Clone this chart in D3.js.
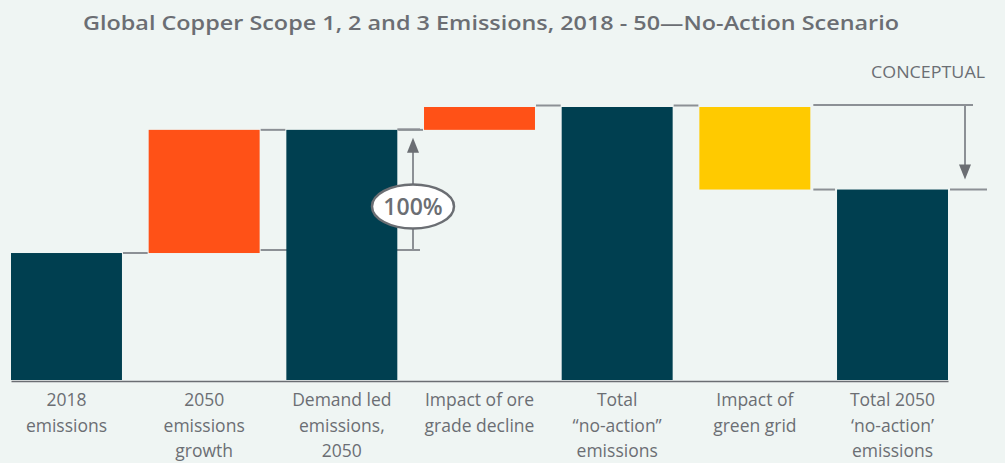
<!DOCTYPE html>
<html>
<head>
<meta charset="utf-8">
<script src="https://cdn.jsdelivr.net/npm/d3@7/dist/d3.min.js"></script>
<style>
  html, body { margin: 0; padding: 0; background: #eff5f3; }
  svg { display: block; }
  text { font-family: "Open Sans", "Noto Sans", sans-serif; }
</style>
</head>
<body>
<svg id="chart" width="1005" height="463"></svg>
<script>
// ---- data ----
const categories = [
  "2018\nemissions",
  "2050\nemissions\ngrowth",
  "Demand led\nemissions,\n2050",
  "Impact of ore\ngrade decline",
  "Total\n\u201cno-action\u201d\nemissions",
  "Impact of\ngreen grid",
  "Total 2050\n\u2018no-action\u2019\nemissions"
];
// waterfall steps (arbitrary units, conceptual)
const stepValues = [100, 97, 197, 18, 215, -65, 150];
const stepTypes  = ["total", "delta", "total", "delta", "total", "delta", "total"];
const growthLabel = "100%";
const titleText = "Global Copper Scope 1, 2 and 3 Emissions, 2018 - 50\u2014No-Action Scenario";
const noteText = "CONCEPTUAL";

// ---- build waterfall segments ----
let running = 0;
const bars = categories.map((c, i) => {
  let y0, y1;
  if (stepTypes[i] === "total") { y0 = 0; y1 = stepValues[i]; running = stepValues[i]; }
  else { y0 = running; y1 = running + stepValues[i]; running = y1; }
  return { cat: c, type: stepTypes[i], value: stepValues[i], y0, y1, level: running };
});

const colors = { total: "#003f50", up: "#ff5117", down: "#ffca00" };
const lineCol = "#8c9095";
const textCol = "#6b6e73";

const svg = d3.select("#chart");
const x = d3.scaleBand().domain(categories).range([11, 948]).paddingInner(0.194).paddingOuter(0);
const y = d3.scaleLinear().domain([0, 215]).range([380, 107]);

// title
svg.append("text")
  .attr("x", 491).attr("y", 30)
  .attr("text-anchor", "middle")
  .attr("fill", textCol)
  .attr("font-size", 19.5).attr("font-weight", 600)
  .attr("textLength", 816).attr("lengthAdjust", "spacingAndGlyphs")
  .text(titleText);

svg.append("text")
  .attr("x", 985).attr("y", 78)
  .attr("text-anchor", "end")
  .attr("fill", textCol)
  .attr("font-size", 16)
  .attr("textLength", 114).attr("lengthAdjust", "spacingAndGlyphs")
  .text(noteText);

const gLines = svg.append("g");
const gBars = svg.append("g");
const gAnn = svg.append("g");

// connectors between consecutive bars (in the gaps)
for (let i = 0; i < bars.length - 1; i++) {
  const lvl = bars[i].level;
  const xa = x(categories[i]) + x.bandwidth() + 1;
  const xb = x(categories[i + 1]) - 1;
  if (i === 5) continue; // handled by annotation
  gLines.append("line")
    .attr("x1", xa).attr("x2", xb)
    .attr("y1", y(lvl) - (i === 3 || i === 4 ? 1.5 : 0)).attr("y2", y(lvl) - (i === 3 || i === 4 ? 1.5 : 0))
    .attr("stroke", lineCol).attr("stroke-width", 2);
}

// bars
gBars.selectAll("rect").data(bars).join("rect")
  .attr("x", d => x(d.cat))
  .attr("width", x.bandwidth())
  .attr("y", d => y(Math.max(d.y0, d.y1)))
  .attr("height", d => Math.abs(y(d.y0) - y(d.y1)))
  .attr("fill", d => d.type === "total" ? colors.total : (d.value >= 0 ? colors.up : colors.down));

// axis
const axis = d3.axisBottom(x).tickSize(0).tickSizeOuter(0).tickFormat("");
const gAxis = svg.append("g").attr("transform", "translate(0,381)").call(axis);
gAxis.select(".domain").attr("stroke", textCol).attr("stroke-width", 1.5);
gAxis.selectAll(".tick").each(function(d) {
  const t = d3.select(this).append("text")
    .attr("text-anchor", "middle")
    .attr("fill", textCol)
    .attr("font-size", 17.5);
  d.split("\n").forEach((ln, k) => {
    t.append("tspan").attr("x", 0).attr("y", 25 + k * 25.5).text(ln);
  });
});

function arrowHead(g, ax, tipY, dir) {
  // dir: -1 pointing up, +1 pointing down
  const h = 15, w = 6;
  g.append("path")
    .attr("d", `M${ax},${tipY} L${ax + w},${tipY - dir * h} L${ax - w},${tipY - dir * h} Z`)
    .attr("fill", "#6b6e73");
}

// ---- 100% growth annotation ----
const b1 = bars[1], b2 = bars[2];
const axX = 413;
const xEnd1 = 420;
gLines.append("line")
  .attr("x1", x(categories[1]) + x.bandwidth() + 1).attr("x2", xEnd1)
  .attr("y1", y(b1.y0) - 3).attr("y2", y(b1.y0) - 3)
  .attr("stroke", lineCol).attr("stroke-width", 2);
gLines.append("line")
  .attr("x1", x(categories[2]) + x.bandwidth()).attr("x2", xEnd1)
  .attr("y1", y(b2.level) - 0.5).attr("y2", y(b2.level) - 0.5)
  .attr("stroke", lineCol).attr("stroke-width", 2);
const tip1 = y(b2.level) + 8;
gAnn.append("line")
  .attr("x1", axX).attr("x2", axX)
  .attr("y1", y(b1.y0) - 3).attr("y2", tip1 + 10)
  .attr("stroke", lineCol).attr("stroke-width", 2);
arrowHead(gAnn, axX, tip1, -1);
const ey = (y(b1.y0) + y(b2.level)) / 2 + 15;
gAnn.append("ellipse")
  .attr("cx", axX).attr("cy", ey).attr("rx", 41).attr("ry", 22)
  .attr("fill", "#ffffff").attr("stroke", textCol).attr("stroke-width", 2.5);
gAnn.append("text")
  .attr("x", axX).attr("y", ey + 8.5)
  .attr("text-anchor", "middle")
  .attr("fill", textCol).attr("font-size", 23).attr("font-weight", 600)
  .text(growthLabel);

// ---- green grid reduction annotation ----
const b5 = bars[5], b6 = bars[6];
const x6r = x(categories[5]) + x.bandwidth() + 3;
const arrX = 965;
gLines.append("line")
  .attr("x1", x6r).attr("x2", 973)
  .attr("y1", y(b5.y0) - 2).attr("y2", y(b5.y0) - 2)
  .attr("stroke", lineCol).attr("stroke-width", 2);
gLines.append("line")
  .attr("x1", x6r).attr("x2", x(categories[6]) - 2)
  .attr("y1", y(b6.value)).attr("y2", y(b6.value))
  .attr("stroke", lineCol).attr("stroke-width", 2);
gLines.append("line")
  .attr("x1", x(categories[6]) + x.bandwidth() + 2).attr("x2", 987)
  .attr("y1", y(b6.value)).attr("y2", y(b6.value))
  .attr("stroke", lineCol).attr("stroke-width", 2);
const tip2 = y(b6.value) - 10;
gAnn.append("line")
  .attr("x1", arrX).attr("x2", arrX)
  .attr("y1", y(b5.y0) - 2).attr("y2", tip2 - 10)
  .attr("stroke", lineCol).attr("stroke-width", 2);
arrowHead(gAnn, arrX, tip2, 1);
</script>
</body>
</html>
